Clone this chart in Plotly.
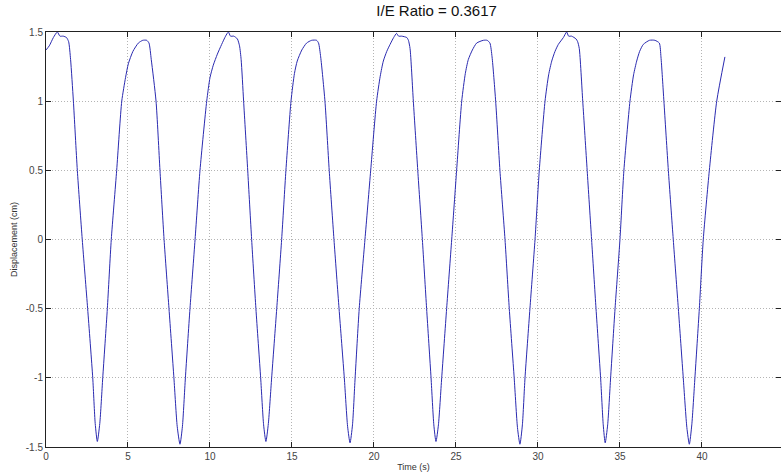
import plotly.graph_objects as go

# Time (s) and displacement (cm)
time_s = [
    0.0, 0.2, 0.45, 0.69, 0.85, 1.05, 1.25, 1.38, 1.5, 1.67, 1.91, 2.21, 2.54, 2.85, 3.0, 3.13,
    3.28, 3.46, 3.74, 3.98, 4.31, 4.62, 4.85, 5.02, 5.3, 5.63, 5.9, 6.14, 6.28, 6.42, 6.71, 6.95, 7.2, 7.5, 7.8, 8.0, 8.17,
    8.32, 8.5, 8.78, 9.09, 9.39, 9.8, 10.0, 10.2, 10.45, 10.71, 10.95, 11.12, 11.25, 11.45, 11.67, 11.8, 11.9, 12.05, 12.3, 12.54, 12.8, 13.09, 13.27, 13.41,
    13.56, 13.76, 14.07, 14.37, 14.63, 14.94, 15.15, 15.32, 15.6, 15.89, 16.2, 16.5, 16.62, 16.75, 17.01, 17.27, 17.56, 17.87, 18.19, 18.39, 18.54,
    18.69, 18.85, 19.1, 19.45, 19.8, 20.16, 20.38, 20.57, 20.78, 20.98, 21.2, 21.38, 21.5, 21.69, 22.0, 22.1, 22.2, 22.4, 22.67, 22.95, 23.21, 23.48, 23.65, 23.78,
    23.93, 24.13, 24.43, 24.74, 25.04, 25.35, 25.57, 25.75, 26.0, 26.26, 26.67, 26.9, 27.07, 27.2, 27.42, 27.68, 27.99, 28.25, 28.55, 28.75, 28.9,
    29.05, 29.21, 29.51, 29.82, 30.08, 30.43, 30.65, 30.84, 31.04, 31.24, 31.55, 31.75, 31.87, 32.05, 32.32, 32.42, 32.52, 32.73, 33.0, 33.27, 33.54, 33.82, 33.98, 34.1,
    34.25, 34.43, 34.7, 35.0, 35.24, 35.61, 35.83, 36.02, 36.2, 36.42, 36.8, 37.13, 37.4, 37.5, 37.68, 37.95, 38.25, 38.56, 38.86, 39.08, 39.23,
    39.38, 39.57, 39.84, 40.08, 40.45, 40.9, 41.4,
]
displacement_cm = [
    1.37, 1.40, 1.46, 1.50, 1.47, 1.47, 1.46, 1.43, 1.30, 1.0, 0.5, 0.0, -0.5, -1.0, -1.33, -1.46,
    -1.33, -1.0, -0.5, 0.0, 0.5, 1.0, 1.17, 1.27, 1.36, 1.42, 1.44, 1.44, 1.42, 1.30, 1.0, 0.5, 0.0, -0.5, -1.0, -1.35, -1.48,
    -1.35, -1.0, -0.5, 0.0, 0.5, 1.0, 1.17, 1.26, 1.34, 1.41, 1.47, 1.50, 1.47, 1.47, 1.45, 1.40, 1.30, 1.0, 0.5, 0.0, -0.5, -1.0, -1.34, -1.46,
    -1.33, -1.0, -0.5, 0.0, 0.5, 1.0, 1.20, 1.29, 1.37, 1.42, 1.44, 1.44, 1.42, 1.32, 1.0, 0.5, 0.0, -0.5, -1.0, -1.35, -1.47,
    -1.34, -1.0, -0.5, 0.0, 0.5, 1.0, 1.18, 1.29, 1.36, 1.41, 1.46, 1.49, 1.47, 1.47, 1.46, 1.44, 1.38, 1.0, 0.5, 0.0, -0.5, -1.0, -1.34, -1.46,
    -1.34, -1.0, -0.5, 0.0, 0.5, 1.0, 1.20, 1.30, 1.37, 1.42, 1.44, 1.44, 1.42, 1.32, 1.0, 0.5, 0.0, -0.5, -1.0, -1.36, -1.48,
    -1.34, -1.0, -0.5, 0.0, 0.5, 1.0, 1.19, 1.29, 1.36, 1.41, 1.46, 1.50, 1.47, 1.47, 1.45, 1.43, 1.38, 1.0, 0.5, 0.0, -0.5, -1.0, -1.34, -1.47,
    -1.34, -1.0, -0.5, 0.0, 0.5, 1.0, 1.19, 1.29, 1.36, 1.41, 1.44, 1.44, 1.42, 1.32, 1.0, 0.5, 0.0, -0.5, -1.0, -1.36, -1.48,
    -1.34, -1.0, -0.5, 0.0, 0.5, 1.0, 1.32,
]

x_ticks = [0, 5, 10, 15, 20, 25, 30, 35, 40, 45]
y_ticks = [-1.5, -1, -0.5, 0, 0.5, 1, 1.5]
y_tick_labels = ["-1.5", "-1", "-0.5", "0", "0.5", "1", "1.5"]

font_family = "Liberation Sans, Arial, Helvetica, sans-serif"

fig = go.Figure()
fig.add_trace(go.Scatter(
    x=time_s, y=displacement_cm, mode="lines",
    line=dict(color="#2a2ab0", width=1, shape="spline", smoothing=0.6),
    showlegend=False, hoverinfo="skip",
))

axis_common = dict(
    showline=True, linecolor="#222222", linewidth=1, mirror="allticks",
    ticks="inside", ticklen=5, tickcolor="#222222", tickwidth=1,
    showgrid=True, gridcolor="#b4b4b4", griddash="1px,2px", gridwidth=1,
    zeroline=False, tickfont=dict(family=font_family, size=10, color="#444444"),
)

fig.update_layout(
    width=781, height=473,
    margin=dict(l=46, r=0, t=32, b=26),
    paper_bgcolor="white", plot_bgcolor="white",
    title=dict(text="I/E Ratio = 0.3617", x=0.559, xanchor="center", y=0.988, yanchor="top",
               font=dict(family=font_family, size=15, color="#111111")),
    xaxis=dict(range=[0, 44.82], tickvals=x_ticks, ticktext=[str(v) for v in x_ticks],
               title=dict(text="Time (s)", font=dict(family=font_family, size=9, color="#333333"), standoff=2),
               **axis_common),
    yaxis=dict(range=[-1.5, 1.5], tickvals=y_ticks, ticktext=y_tick_labels,
               title=dict(text="Displacement (cm)", font=dict(family=font_family, size=9, color="#333333"), standoff=6),
               **axis_common),
)

fig.write_html("out.html")
